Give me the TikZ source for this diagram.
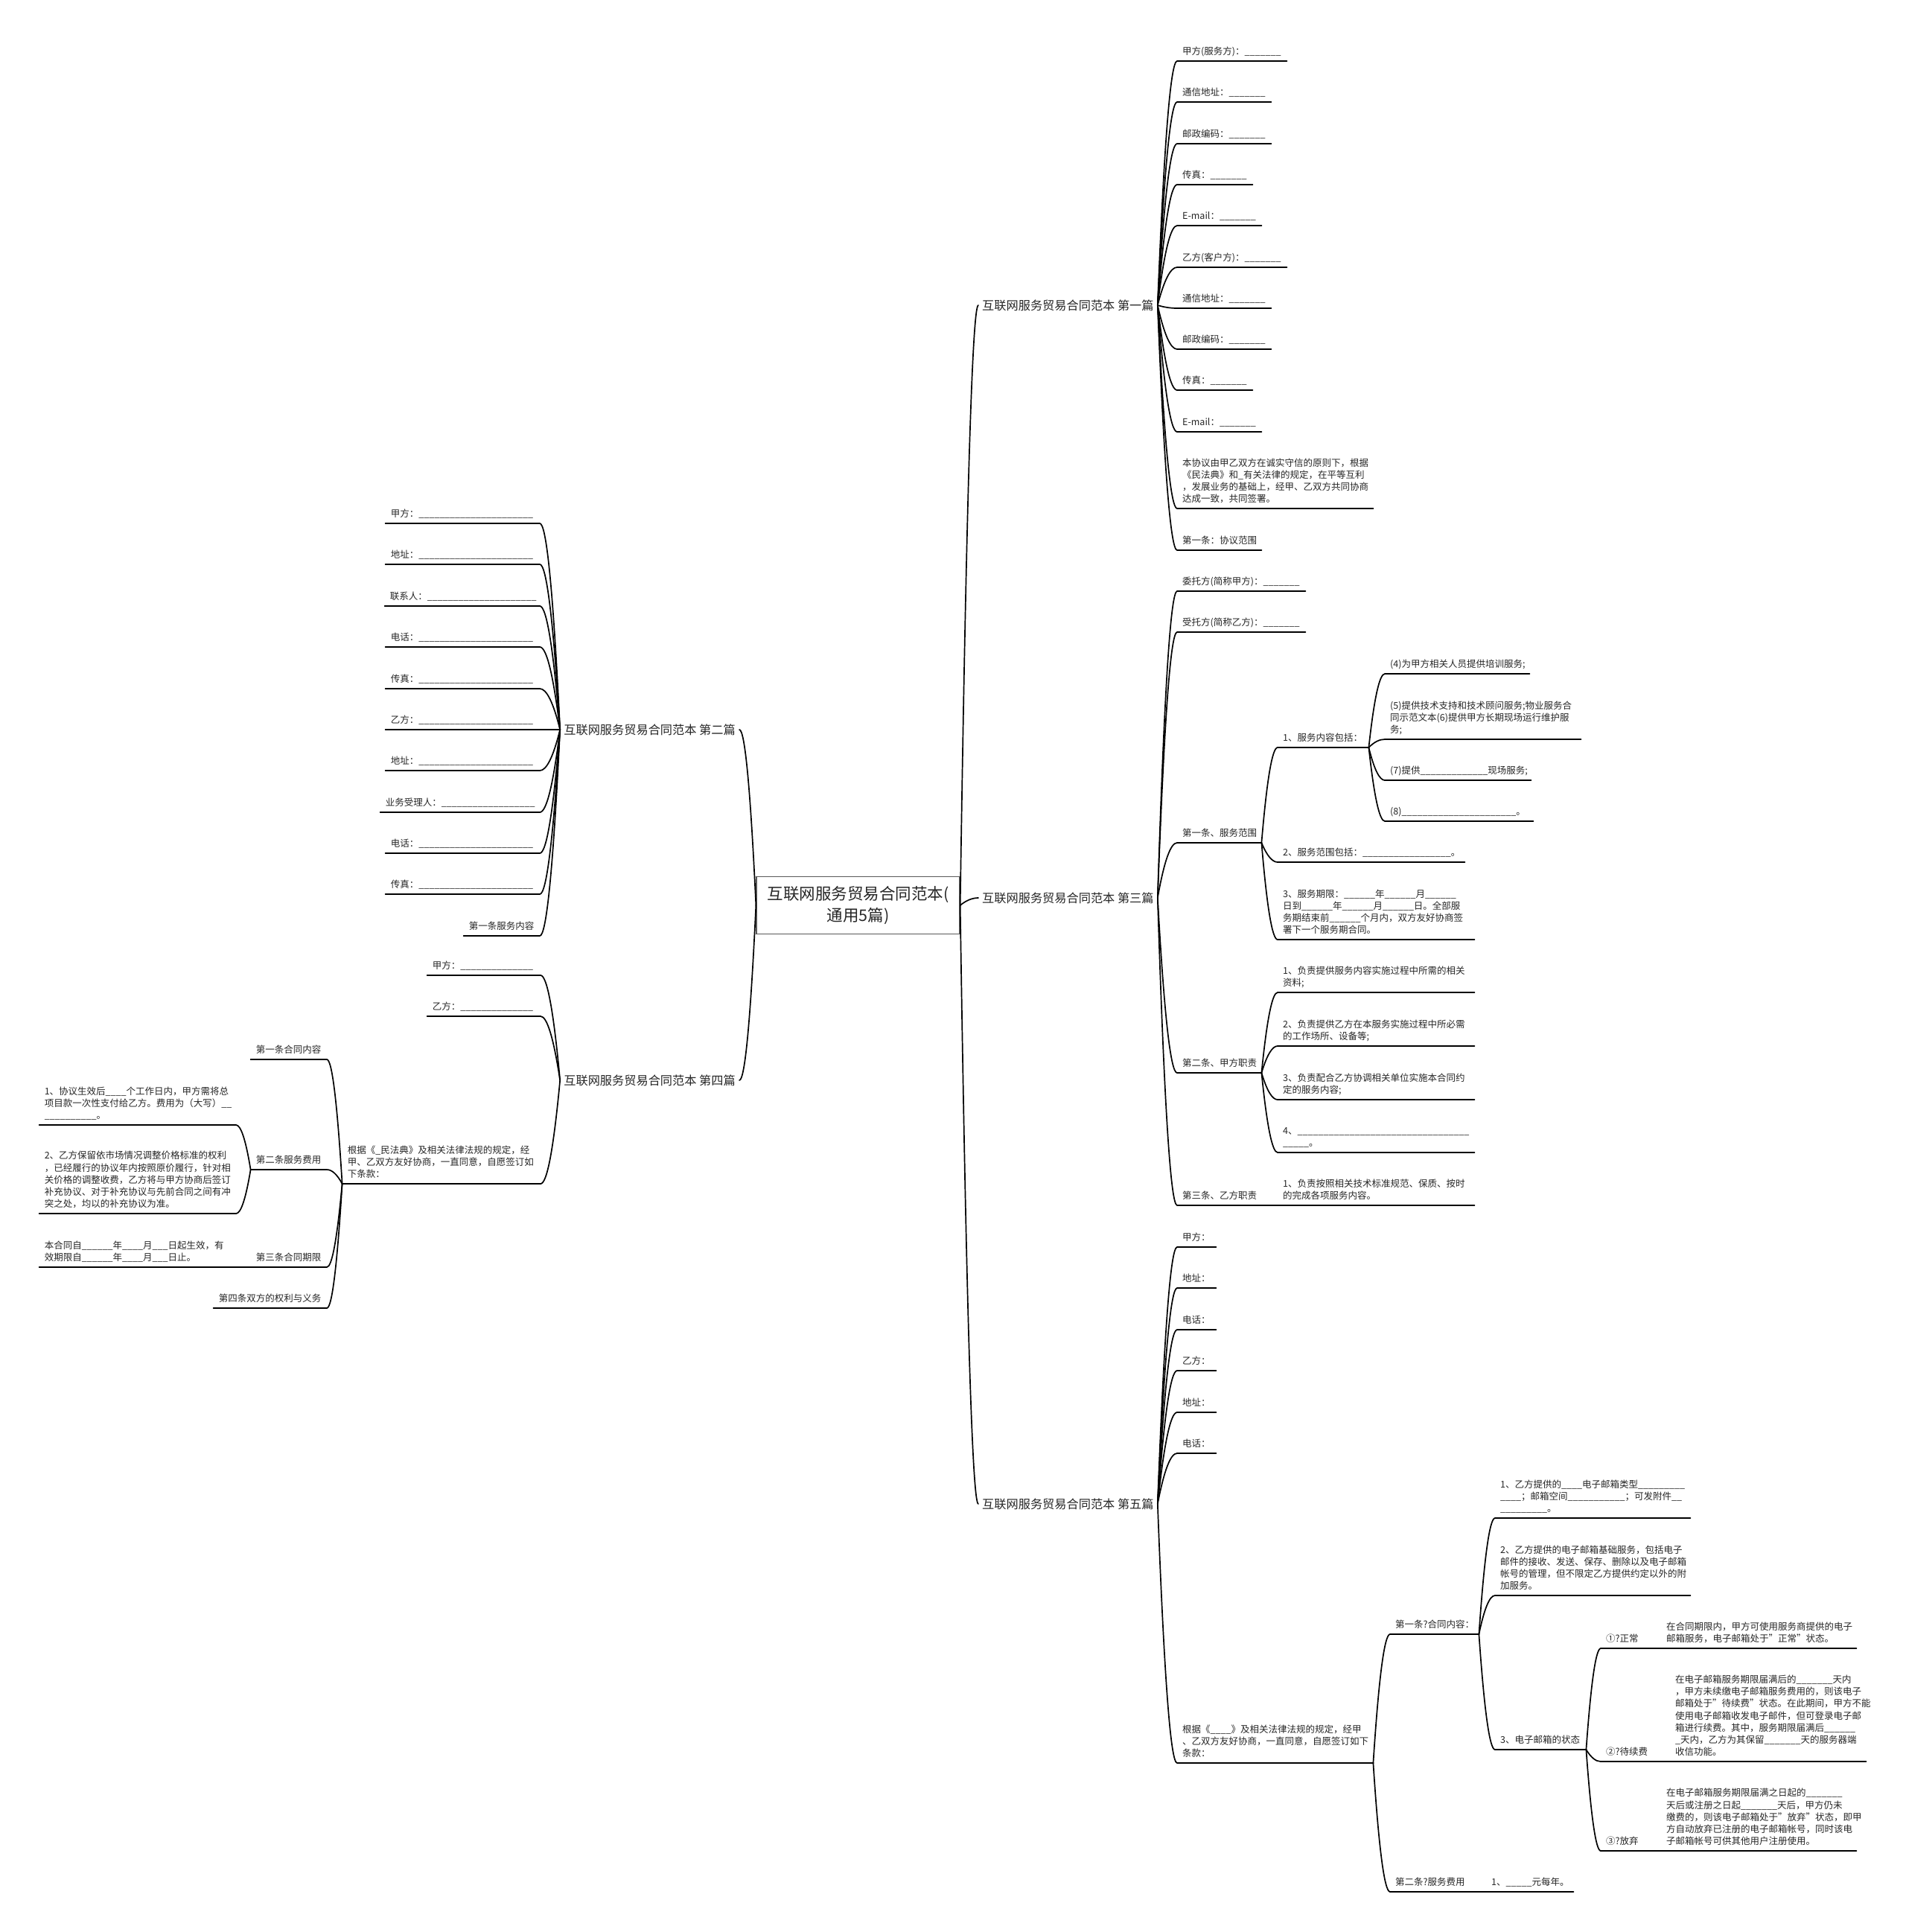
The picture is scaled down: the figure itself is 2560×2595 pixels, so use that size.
\documentclass[tikz,border=0pt]{standalone}
\usepackage{fontspec}
\setmainfont{Noto Sans CJK SC}
\usetikzlibrary{calc}
\hyphenpenalty=10000
\exhyphenpenalty=10000
\hbadness=10000
\hfuzz=50pt
\newcommand\fsmall{\fontsize{12.5pt}{16.3pt}\selectfont}
\newcommand\fbig{\fontsize{16.2pt}{20pt}\selectfont}
\newcommand\ftitle{\fontsize{21.5pt}{29pt}\selectfont}
\newcount\bkn
\newcommand\bk[1]{\bkn=#1\relax\loop\ifnum\bkn>0 \_\advance\bkn by -1 \repeat}
\tikzset{
  ulsty/.style={draw=black, line width=1.7pt, line cap=round},
  rl/.style={anchor=south west, align=left, font=\fsmall, text=black!85,
    inner xsep=7pt, inner ysep=3pt, execute at end node=\strut,
    append after command={(\tikzlastnode.south west) edge[ulsty] (\tikzlastnode.south east)}},
  ll/.style={rl, anchor=south east},
  branch/.style={font=\fbig, text=black!85, inner xsep=5pt, inner ysep=2pt},
  mm/.style={to path={let \p1=(\tikztostart), \p2=(\tikztotarget) in
    .. controls ({\x1+0.333*(\x2-\x1)},{\y1+0.667*(\y2-\y1)}) and ({\x2-0.333*(\x2-\x1)},{\y2}) .. (\p2)}},
  conn/.style={draw=black, line width=1.7pt, line cap=round, mm},
}
\begin{document}
\begin{tikzpicture}[x=1pt,y=-1pt]
\fill[white] (0,0) rectangle (2560,2595);
\useasboundingbox (0,0) rectangle (2560,2595);

% root
\node[draw=black!65, line width=1.3pt, minimum width=273pt, minimum height=77pt,
  align=center, font=\ftitle, text=black!85, inner sep=0pt] (root) at (1152.5,1216)
  {互联网服务贸易合同范本(\\通用5篇)};

% main branches
\node[branch, anchor=west] (b1) at (1314,410) {互联网服务贸易合同范本 第一篇};
\node[branch, anchor=west] (b3) at (1314,1206) {互联网服务贸易合同范本 第三篇};
\node[branch, anchor=west] (b5) at (1314,2020) {互联网服务贸易合同范本 第五篇};
\node[branch, anchor=east] (b2) at (993,980) {互联网服务贸易合同范本 第二篇};
\node[branch, anchor=east] (b4) at (993,1451) {互联网服务贸易合同范本 第四篇};

% ---------- 第一篇
\node[rl, text width=133pt] (a1) at (1581,82) {甲方(服务方)：\bk{7}};
\node[rl, text width=112pt] (a2) at (1581,137) {通信地址：\bk{7}};
\node[rl, text width=112pt] (a3) at (1581,193) {邮政编码：\bk{7}};
\node[rl, text width=87pt] (a4) at (1581,248) {传真：\bk{7}};
\node[rl, text width=99pt] (a5) at (1581,303) {E-mail：\bk{7}};
\node[rl, text width=133pt] (a6) at (1581,359) {乙方(客户方)：\bk{7}};
\node[rl, text width=112pt] (a7) at (1581,414) {通信地址：\bk{7}};
\node[rl, text width=112pt] (a8) at (1581,469) {邮政编码：\bk{7}};
\node[rl, text width=87pt] (a9) at (1581,524) {传真：\bk{7}};
\node[rl, text width=99pt] (a10) at (1581,580) {E-mail：\bk{7}};
\node[rl, text width=249pt] (a11) at (1581,683) {本协议由甲乙双方在诚实守信的原则下，根据\\《民法典》和\_有关法律的规定，在平等互利\\，发展业务的基础上，经甲、乙双方共同协商\\达成一致，共同签署。};
\node[rl, text width=99pt] (a12) at (1581,739) {第一条：协议范围};

% ---------- 第三篇
\node[rl, text width=158pt] (c1) at (1581,794) {委托方(简称甲方)：\bk{7}};
\node[rl, text width=158pt] (c2) at (1581,849) {受托方(简称乙方)：\bk{7}};
\node[rl, text width=99pt] (c3) at (1581,1132) {第一条、服务范围};
\node[rl, text width=108pt] (c31) at (1716,1004) {1、服务内容包括：};
\node[rl, text width=180pt] (c311) at (1860,905) {(4)为甲方相关人员提供培训服务;};
\node[rl, text width=249pt] (c312) at (1860,993) {(5)提供技术支持和技术顾问服务;物业服务合\\同示范文本(6)提供甲方长期现场运行维护服\\务;};
\node[rl, text width=182pt] (c313) at (1860,1048) {(7)提供\bk{13}现场服务;};
\node[rl, text width=185pt] (c314) at (1860,1103) {(8)\bk{22}。};
\node[rl, text width=237pt] (c32) at (1716,1158) {2、服务范围包括：\bk{17}。};
\node[rl, text width=250pt] (c33) at (1716,1262) {3、服务期限：\bk{6}年\bk{6}月\bk{6}\\日到\bk{6}年\bk{6}月\bk{6}日。全部服\\务期结束前\bk{6}个月内，双方友好协商签\\署下一个服务期合同。};
\node[rl, text width=99pt] (c4) at (1581,1441) {第二条、甲方职责};
\node[rl, text width=250pt] (c41) at (1716,1333) {1、负责提供服务内容实施过程中所需的相关\\资料;};
\node[rl, text width=250pt] (c42) at (1716,1405) {2、负责提供乙方在本服务实施过程中所必需\\的工作场所、设备等;};
\node[rl, text width=250pt] (c43) at (1716,1477) {3、负责配合乙方协调相关单位实施本合同约\\定的服务内容;};
\node[rl, text width=250pt] (c44) at (1716,1548) {4、\bk{33}\\\bk{5}。};
\node[rl, text width=99pt] (c5) at (1581,1619) {第三条、乙方职责};
\node[rl, text width=250pt] (c51) at (1716,1619) {1、负责按照相关技术标准规范、保质、按时\\的完成各项服务内容。};

% ---------- 第五篇
\node[rl, text width=38pt] (e1) at (1581,1675) {甲方：};
\node[rl, text width=38pt] (e2) at (1581,1730) {地址：};
\node[rl, text width=38pt] (e3) at (1581,1786) {电话：};
\node[rl, text width=38pt] (e4) at (1581,1841) {乙方：};
\node[rl, text width=38pt] (e5) at (1581,1897) {地址：};
\node[rl, text width=38pt] (e6) at (1581,1952) {电话：};
\node[rl, text width=249pt] (e7) at (1581,2368) {根据《\bk{4}》及相关法律法规的规定，经甲\\、乙双方友好协商，一直同意，自愿签订如下\\条款：};
\node[rl, text width=105pt] (e71) at (1867,2195) {第一条?合同内容：};
\node[rl, text width=248pt] (e711) at (2008,2039) {1、乙方提供的\bk{4}电子邮箱类型\bk{9}\\\bk{4}；邮箱空间\bk{11}；可发附件\bk{2}\\\bk{9}。};
\node[rl, text width=248pt] (e712) at (2008,2143) {2、乙方提供的电子邮箱基础服务，包括电子\\邮件的接收、发送、保存、删除以及电子邮箱\\帐号的管理，但不限定乙方提供约定以外的附\\加服务。};
\node[rl, text width=108pt] (e713) at (2008,2350) {3、电子邮箱的状态};
\node[rl, text width=44pt] (e7131) at (2150,2214) {①?正常};
\node[rl, text width=248pt] (e71311) at (2231,2214) {在合同期限内，甲方可使用服务商提供的电子\\邮箱服务，电子邮箱处于"正常"状态。};
\node[rl, text width=57pt] (e7132) at (2150,2366) {②?待续费};
\node[rl, text width=249pt] (e71321) at (2243,2366) {在电子邮箱服务期限届满后的\bk{7}天内\\，甲方未续缴电子邮箱服务费用的，则该电子\\邮箱处于"待续费"状态。在此期间，甲方不能\\使用电子邮箱收发电子邮件，但可登录电子邮\\箱进行续费。其中，服务期限届满后\bk{6}\\\_天内，乙方为其保留\bk{7}天的服务器端\\收信功能。};
\node[rl, text width=44pt] (e7133) at (2150,2486) {③?放弃};
\node[rl, text width=248pt] (e71331) at (2231,2486) {在电子邮箱服务期限届满之日起的\bk{7}\\天后或注册之日起\bk{7}天后，甲方仍未\\缴费的，则该电子邮箱处于"放弃"状态，即甲\\方自动放弃已注册的电子邮箱帐号，同时该电\\子邮箱帐号可供其他用户注册使用。};
\node[rl, text width=95pt] (e72) at (1867,2541) {第二条?服务费用};
\node[rl, text width=103pt] (e721) at (1996,2541) {1、\bk{5}元每年。};

% ---------- 第二篇
\node[ll, text width=193pt] (d1) at (725,703) {甲方：\bk{22}};
\node[ll, text width=193pt] (d2) at (725,758) {地址：\bk{22}};
\node[ll, text width=194pt] (d3) at (725,814) {联系人：\bk{21}};
\node[ll, text width=193pt] (d4) at (725,869) {电话：\bk{22}};
\node[ll, text width=193pt] (d5) at (725,925) {传真：\bk{22}};
\node[ll, text width=193pt] (d6) at (725,980) {乙方：\bk{22}};
\node[ll, text width=193pt] (d7) at (725,1035) {地址：\bk{22}};
\node[ll, text width=200pt] (d8) at (725,1091) {业务受理人：\bk{18}};
\node[ll, text width=193pt] (d9) at (725,1146) {电话：\bk{22}};
\node[ll, text width=193pt] (d10) at (725,1201) {传真：\bk{22}};
\node[ll, text width=88pt] (d11) at (725,1257) {第一条服务内容};

% ---------- 第四篇
\node[ll, text width=138pt] (f1) at (726,1310) {甲方：\bk{14}};
\node[ll, text width=138pt] (f2) at (726,1365) {乙方：\bk{14}};
\node[ll, text width=252pt] (f3) at (726,1590) {根据《\_民法典》及相关法律法规的规定，经\\甲、乙双方友好协商，一直同意，自愿签订如\\下条款：};
\node[ll, text width=88pt] (f31) at (439,1423) {第一条合同内容};
\node[ll, text width=88pt] (f32) at (439,1571) {第二条服务费用};
\node[ll, text width=250pt] (f321) at (317,1511) {1、协议生效后\bk{4}个工作日内，甲方需将总\\项目款一次性支付给乙方。费用为（大写）\bk{2}\\\bk{10}。};
\node[ll, text width=250pt] (f322) at (317,1630) {2、乙方保留依市场情况调整价格标准的权利\\，已经履行的协议年内按照原价履行，针对相\\关价格的调整收费，乙方将与甲方协商后签订\\补充协议、对于补充协议与先前合同之间有冲\\突之处，均以的补充协议为准。};
\node[ll, text width=88pt] (f33) at (439,1702) {第三条合同期限};
\node[ll, text width=250pt] (f331) at (317,1702) {本合同自\bk{6}年\bk{4}月\bk{3}日起生效，有\\效期限自\bk{6}年\bk{4}月\bk{3}日止。};
\node[ll, text width=138pt] (f34) at (439,1757) {第四条双方的权利与义务};

% ---------- connectors
\foreach \q in {b1,b3,b5} \draw[conn] (root.east) to (\q.west);
\foreach \q in {b2,b4} \draw[conn] (root.west) to (\q.east);
\foreach \q in {1,...,12} \draw[conn] (b1.east) to (a\q.south west);
\foreach \q in {c1,c2,c3,c4,c5} \draw[conn] (b3.east) to (\q.south west);
\foreach \q in {c31,c32,c33} \draw[conn] (c3.south east) to (\q.south west);
\foreach \q in {c311,c312,c313,c314} \draw[conn] (c31.south east) to (\q.south west);
\foreach \q in {c41,c42,c43,c44} \draw[conn] (c4.south east) to (\q.south west);
\draw[conn] (c5.south east) to (c51.south west);
\foreach \q in {e1,e2,e3,e4,e5,e6,e7} \draw[conn] (b5.east) to (\q.south west);
\foreach \q in {e71,e72} \draw[conn] (e7.south east) to (\q.south west);
\foreach \q in {e711,e712,e713} \draw[conn] (e71.south east) to (\q.south west);
\foreach \q in {e7131,e7132,e7133} \draw[conn] (e713.south east) to (\q.south west);
\draw[conn] (e7131.south east) to (e71311.south west);
\draw[conn] (e7132.south east) to (e71321.south west);
\draw[conn] (e7133.south east) to (e71331.south west);
\draw[conn] (e72.south east) to (e721.south west);
\foreach \q in {1,...,11} \draw[conn] (b2.west) to (d\q.south east);
\foreach \q in {f1,f2,f3} \draw[conn] (b4.west) to (\q.south east);
\foreach \q in {f31,f32,f33,f34} \draw[conn] (f3.south west) to (\q.south east);
\foreach \q in {f321,f322} \draw[conn] (f32.south west) to (\q.south east);
\draw[conn] (f33.south west) to (f331.south east);
\end{tikzpicture}
\end{document}
